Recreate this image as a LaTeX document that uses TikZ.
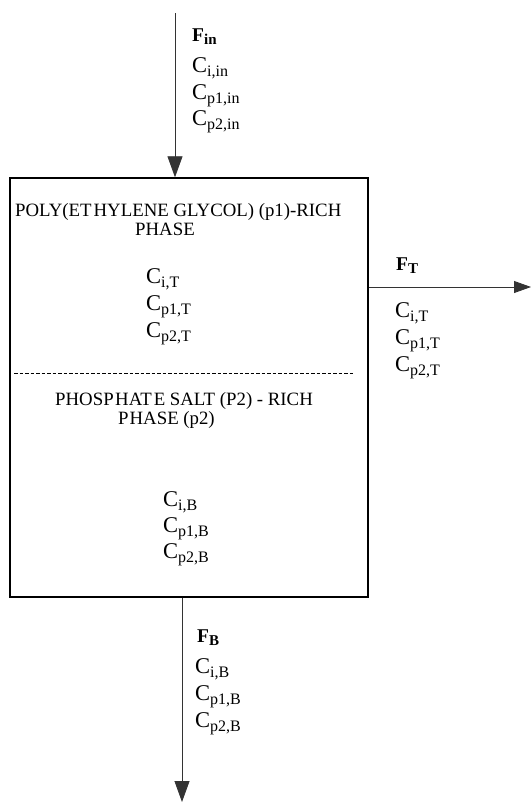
\documentclass[tikz,border=0pt]{standalone}
\usepackage{fontspec}
\setmainfont{Liberation Serif}
\usetikzlibrary{arrows.meta}
\newcommand{\lowidx}[1]{\raisebox{-4.5pt}{\fontsize{16}{18}\selectfont #1}}
\newcommand{\lowbold}[1]{\raisebox{-3.5pt}{\fontsize{15}{17}\selectfont\bfseries #1}}
\tikzset{
	conc/.style={anchor=base west, inner sep=0pt, font=\fontsize{22.5}{26}\selectfont},
	flow/.style={anchor=base west, inner sep=0pt, font=\fontsize{19.5}{23}\selectfont\bfseries},
	phasetxt/.style={anchor=base west, inner sep=0pt, font=\fontsize{18.8}{22}\selectfont},
	stream/.style={draw=black!80, line width=0.8pt, -{Triangle[length=21pt,width=15pt]}},
	sidestream/.style={draw=black!80, line width=0.8pt, -{Triangle[length=17pt,width=12pt]}}
}

\begin{document}
\begin{tikzpicture}[x=1pt,y=-1pt]
		%%%%% START %%%%%
		\useasboundingbox (0,0) rectangle (532,803);
		
		% separator vessel
		\node[draw, line width=1.4pt, minimum width=358pt, minimum height=419pt, inner sep=0pt] (tank) at (189,387.5) {};
		
		\coordinate (sepL) at (14,373);
		\coordinate (sepR) at (354,373);
		\draw[line width=0.6pt, dash pattern=on 3.5pt off 2pt] (sepL) -- (sepR);
		
		% top phase
		\node[phasetxt] (topname) at (15,216) {POLY(ET\kern2pt HYLENE GLYCOL) (p1)-RICH};
		\node[phasetxt] (topphase) at (135,235) {PHASE};
		\node[conc] (ciT) at (146,283) {C\lowidx{i,T}};
		\node[conc] (cpaT) at (146,310) {C\lowidx{p1,T}};
		\node[conc] (cpbT) at (146,337) {C\lowidx{p2,T}};
		
		% bottom phase
		\node[phasetxt] (botname) at (55,405) {PHOSP\kern1.5pt HAT\kern2pt E SALT (P2) - RICH};
		\node[phasetxt] (botphase) at (118,424) {P\kern1pt HASE (p2)};
		\node[conc] (ciB) at (163,506) {C\lowidx{i,B}};
		\node[conc] (cpaB) at (163,532) {C\lowidx{p1,B}};
		\node[conc] (cpbB) at (163,558) {C\lowidx{p2,B}};
		
		% feed
		\coordinate (feedtop) at (175,13);
		\draw[stream] (feedtop) -- (feedtop |- tank.north);
		\node[flow] (Fin) at (192,41) {F\lowbold{in}};
		\node[conc] (ciin) at (192,72) {C\lowidx{i,in}};
		\node[conc] (cpain) at (192,99) {C\lowidx{p1,in}};
		\node[conc] (cpbin) at (192,125) {C\lowidx{p2,in}};
		
		% top stream
		\coordinate (topend) at (531,287);
		\draw[sidestream] (tank.east |- topend) -- (topend);
		\node[flow] (FT) at (396,270) {F\lowbold{T}};
		\node[conc] (ciTout) at (395,317) {C\lowidx{i,T}};
		\node[conc] (cpaTout) at (395,344) {C\lowidx{p1,T}};
		\node[conc] (cpbTout) at (395,371) {C\lowidx{p2,T}};
		
		% bottom stream
		\coordinate (botend) at (182,802);
		\draw[stream] (botend |- tank.south) -- (botend);
		\node[flow] (FB) at (197,642) {F\lowbold{B}};
		\node[conc] (ciBout) at (195,673) {C\lowidx{i,B}};
		\node[conc] (cpaBout) at (195,700) {C\lowidx{p1,B}};
		\node[conc] (cpbBout) at (195,727) {C\lowidx{p2,B}};
		
		%%%%% END %%%%%
	\end{tikzpicture}
\end{document}
